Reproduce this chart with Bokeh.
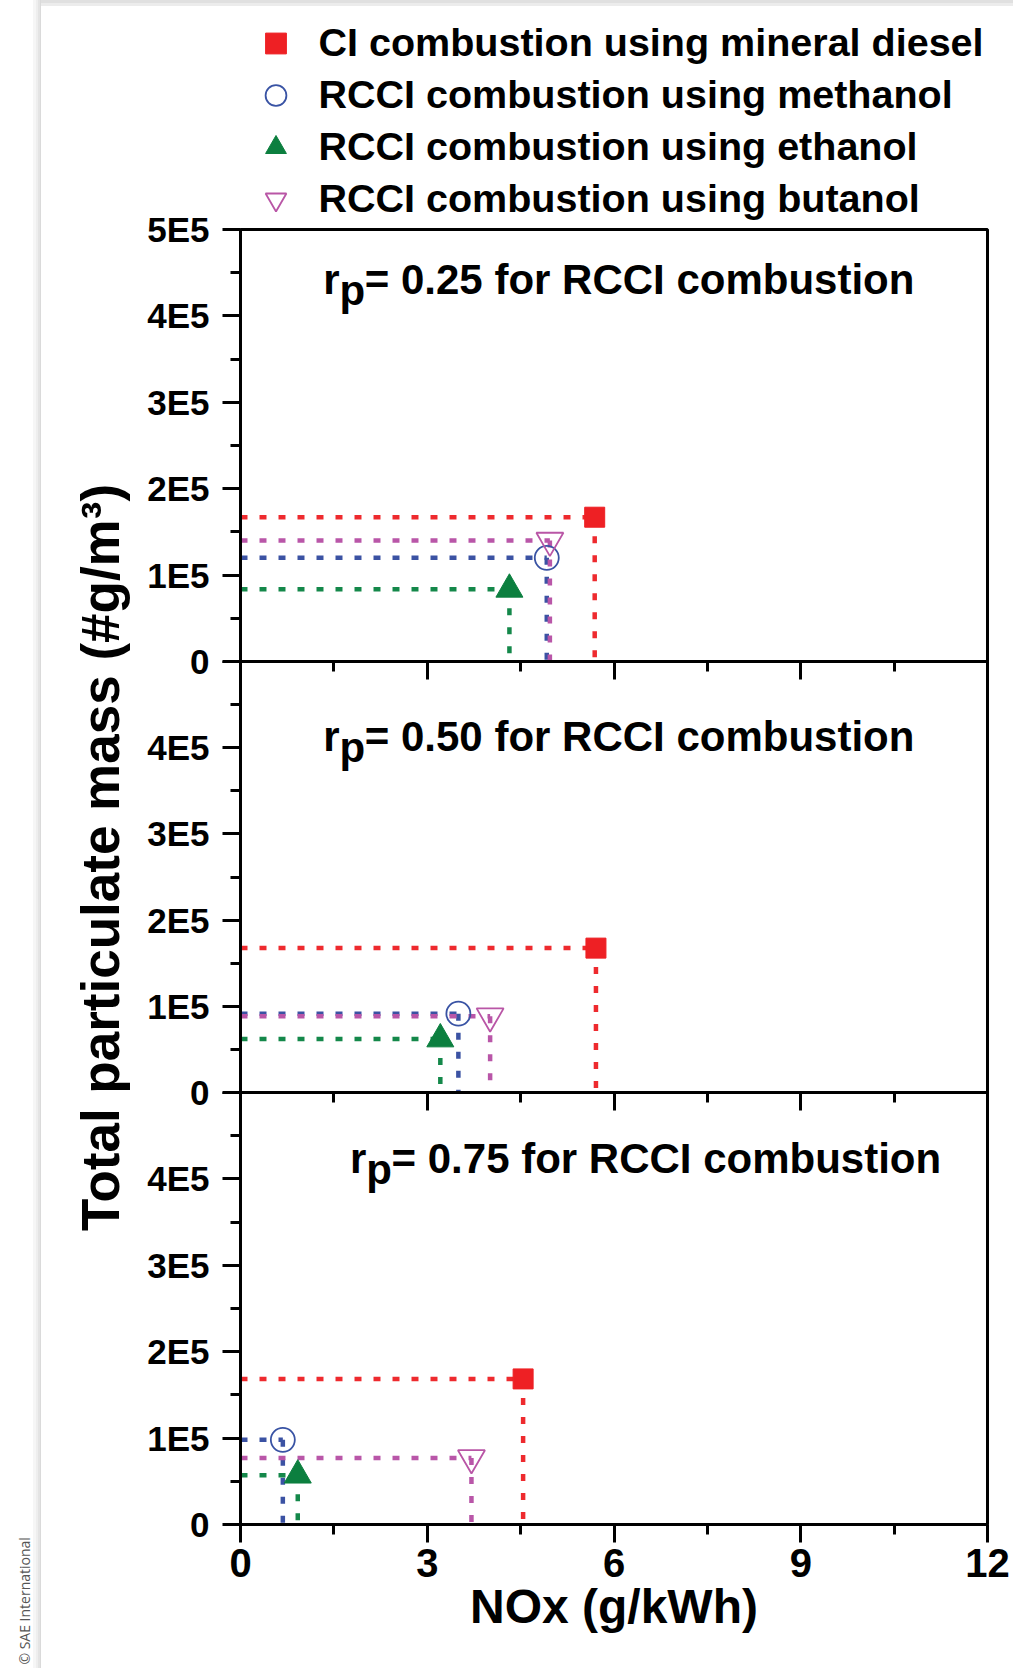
from bokeh.plotting import figure
from bokeh.models import Range1d, FixedTicker, Label, Legend, LegendItem
from bokeh.layouts import row, column
from bokeh.embed import file_html
from bokeh.resources import INLINE

# ---------------- data ----------------
x_ticks = [0, 3, 6, 9, 12]
x_minor = [1.5, 4.5, 7.5, 10.5]
y_ticks = [0, 1e5, 2e5, 3e5, 4e5, 5e5]
y_minor = [0.5e5, 1.5e5, 2.5e5, 3.5e5, 4.5e5]
y_tick_labels = ["0", "1E5", "2E5", "3E5", "4E5", "5E5"]

rp_values = ["0.25", "0.50", "0.75"]

series_names = ["CI combustion using mineral diesel",
                "RCCI combustion using methanol",
                "RCCI combustion using ethanol",
                "RCCI combustion using butanol"]

# NOx (g/kWh) and total particulate mass (#g/m3), one value per panel (rp = 0.25, 0.50, 0.75)
nox_diesel = [5.69, 5.71, 4.54]
pm_diesel = [1.67e5, 1.675e5, 1.685e5]
nox_methanol = [4.92, 3.50, 0.68]
pm_methanol = [1.20e5, 0.915e5, 0.98e5]
nox_ethanol = [4.32, 3.21, 0.92]
pm_ethanol = [0.835e5, 0.62e5, 0.57e5]
nox_butanol = [4.97, 4.01, 3.71]
pm_butanol = [1.40e5, 0.885e5, 0.77e5]

# ---------------- styles ----------------
FONT = "Liberation Sans"
series_x = [nox_diesel, nox_methanol, nox_ethanol, nox_butanol]
series_y = [pm_diesel, pm_methanol, pm_ethanol, pm_butanol]
line_colors = ["#EE2A2E", "#3B52A3", "#14884A", "#B956A8"]
marker_kw = [
    dict(marker="square", size=20, fill_color="#EE2024", line_color="#EE2024", line_width=1),
    dict(marker="circle", size=24, fill_color=None, line_color="#3953A4", line_width=1.8),
    dict(marker="triangle", size=27, fill_color="#0C7F3F", line_color="#0C7F3F", line_width=1),
    dict(marker="inverted_triangle", size=27, fill_color=None, line_color="#B956A6", line_width=1.8),
]

PAGE_W, PAGE_H = 1013, 1668
SHADOW_W = 41
YLAB_W = 99
PANEL_W = PAGE_W - SHADOW_W - YLAB_W   # 873
LEG_H = 229
OVER_TOP = 30
OVER = 60
frame_heights = [432, 431, 432]
BOT_BORDER = PAGE_H - (LEG_H + 432 + 431 + 432)   # 144
title_pos = [(1.33, 4.42e5), (1.33, 4.13e5), (1.76, 4.24e5)]
BAND_CSS = ("linear-gradient(to bottom, #e0e0e0 0px, #e0e0e0 3px, "
            "#ececec 3px, #ececec 6px, #ffffff 6px, #ffffff 100%)")
SHADOW_CSS = ("linear-gradient(to right, #ffffff 0px, #ffffff 33px, #f6f6f6 33px, #f6f6f6 36px, "
              "#eeeeee 36px, #eeeeee 38px, #e4e4e4 38px, #e4e4e4 40px, #dadada 40px, #dadada 41px)")


def bare(fig):
    fig.grid.visible = False
    fig.outline_line_color = None
    return fig


def make_panel(k, b_top, b_bottom, last):
    fh = frame_heights[k]
    p = figure(width=PANEL_W, height=b_top + fh + b_bottom,
               x_range=Range1d(0, 12), y_range=Range1d(0, 5e5),
               output_backend="svg", toolbar_location=None,
               min_border_left=100, min_border_right=26,
               min_border_top=b_top, min_border_bottom=b_bottom)
    p.grid.visible = False
    p.outline_line_color = "black"
    p.outline_line_width = 3
    p.border_fill_alpha = 0
    p.background_fill_alpha = 0

    xa = p.xaxis[0]
    xa.ticker = FixedTicker(ticks=x_ticks, minor_ticks=x_minor)
    xa.axis_line_width = 3
    xa.major_tick_line_width = 3
    xa.minor_tick_line_width = 3
    xa.major_tick_out = 18
    xa.major_tick_in = 0
    xa.minor_tick_out = 10
    xa.minor_tick_in = 0
    xa.major_label_text_font = FONT
    xa.major_label_text_font_style = "bold"
    xa.major_label_text_color = "black"
    if last:
        xa.major_label_text_font_size = "40px"
        xa.major_label_standoff = 6
        xa.axis_label = "NOx (g/kWh)"
        xa.axis_label_text_font = FONT
        xa.axis_label_text_font_size = "48px"
        xa.axis_label_text_font_style = "bold"
        xa.axis_label_text_color = "black"
        xa.axis_label_standoff = 0
    else:
        xa.major_label_text_font_size = "8px"
        xa.major_label_overrides = {t: "" for t in x_ticks}

    ya = p.yaxis[0]
    ya.ticker = FixedTicker(ticks=y_ticks, minor_ticks=y_minor)
    overrides = {t: l for t, l in zip(y_ticks, y_tick_labels)}
    if k > 0:
        overrides[y_ticks[-1]] = ""
    ya.major_label_overrides = overrides
    ya.axis_line_width = 3
    ya.major_tick_line_width = 3
    ya.minor_tick_line_width = 3
    ya.major_tick_out = 18
    ya.major_tick_in = 0
    ya.minor_tick_out = 10
    ya.minor_tick_in = 0
    ya.major_label_text_font = FONT
    ya.major_label_text_font_style = "bold"
    ya.major_label_text_font_size = "35px"
    ya.major_label_text_color = "black"
    ya.major_label_standoff = 13

    # dotted drop lines to the axes
    for s in range(4):
        xv = series_x[s][k]
        yv = series_y[s][k]
        p.segment(x0=[p.x_range.start], y0=[yv], x1=[xv], y1=[yv],
                  line_color=line_colors[s], line_width=4.5, line_dash="7 12")
        p.segment(x0=[xv], y0=[yv], x1=[xv], y1=[p.y_range.start],
                  line_color=line_colors[s], line_width=4.5, line_dash="7 12")
    for s in range(4):
        p.scatter(x=[series_x[s][k]], y=[series_y[s][k]], **marker_kw[s])

    # panel title  r_p = ... for RCCI combustion
    tx, ty = title_pos[k]
    common = dict(x=tx, y=ty, text_font=FONT, text_font_size="42px",
                  text_font_style="bold", text_color="black", text_baseline="alphabetic")
    p.add_layout(Label(text="r", **common))
    p.add_layout(Label(text="p", x_offset=16.3, y_offset=-11, **common))
    p.add_layout(Label(text="= " + rp_values[k] + " for RCCI combustion", x_offset=41.5, **common))
    return p


top = make_panel(0, OVER_TOP, OVER, False)
mid = make_panel(1, 0, OVER, False)
bot = make_panel(2, 0, BOT_BORDER, True)
top.margin = (-OVER_TOP, 0, 0, 0)
mid.margin = (-OVER, 0, 0, 0)
bot.margin = (-OVER, 0, 0, 0)

# ---------------- legend area (above the top panel, same x scale) ----------------
legfig = bare(figure(width=PANEL_W, height=LEG_H,
                     x_range=Range1d(0, 12), y_range=Range1d(5e5, 5e5 * (1 + LEG_H / 432)),
                     output_backend="svg", toolbar_location=None, x_axis_type=None, y_axis_type=None,
                     min_border=0, min_border_left=0, min_border_right=0,
                     min_border_top=0, min_border_bottom=0))
legfig.border_fill_alpha = 0
legfig.background_fill_alpha = 0
legfig.styles = {"background": BAND_CSS}
# the rp = 0.25 points, which lie below this strip's range; they only feed the legend
leg_r = [legfig.scatter(x=[series_x[s][0]], y=[series_y[s][0]], **marker_kw[s]) for s in range(4)]
legend = Legend(items=[LegendItem(label=n, renderers=[r]) for n, r in zip(series_names, leg_r)],
                location=(8.5, 4.4), orientation="vertical",
                glyph_width=53, glyph_height=52, label_height=52, label_standoff=17,
                spacing=0, padding=0, margin=0,
                label_text_font=FONT, label_text_font_size="39.5px", label_text_font_style="bold",
                label_text_color="black",
                border_line_alpha=0, background_fill_alpha=0)
legfig.add_layout(legend)

# ---------------- page decoration: left shadow and copyright ----------------
shadow = bare(figure(width=SHADOW_W, height=PAGE_H, x_range=Range1d(0, SHADOW_W), y_range=Range1d(PAGE_H, 0),
                     output_backend="svg", toolbar_location=None, x_axis_type=None, y_axis_type=None,
                     min_border=0, min_border_left=0, min_border_right=0,
                     min_border_top=0, min_border_bottom=0))
shadow.border_fill_alpha = 0
shadow.background_fill_alpha = 0
shadow.styles = {"background": SHADOW_CSS}
shadow.add_layout(Label(x=24, y=1664, text="\u00a9 SAE International", text_font="Open Sans",
                        text_font_size="14px", text_color="#555555", angle=90, angle_units="deg",
                        text_align="left", text_baseline="alphabetic"))

# ---------------- y axis title strip ----------------
ylab = figure(width=YLAB_W, height=PAGE_H, x_range=Range1d(0, 1), y_range=Range1d(0, 1),
              output_backend="svg", toolbar_location=None, x_axis_type=None,
              min_border=0, min_border_left=YLAB_W - 5, min_border_right=0,
              min_border_top=46, min_border_bottom=0)
ylab.grid.visible = False
ylab.outline_line_color = None
ylab.border_fill_alpha = 0
ylab.background_fill_alpha = 0
ylab.styles = {"background": BAND_CSS}
yl = ylab.yaxis[0]
yl.ticker = FixedTicker(ticks=[])
yl.axis_line_color = None
yl.major_tick_out = 0
yl.major_tick_in = 0
yl.minor_tick_out = 0
yl.minor_tick_in = 0
yl.major_label_standoff = 0
yl.axis_label = "Total particulate mass (#g/m\u00b3)"
yl.axis_label_text_font = FONT
yl.axis_label_text_font_size = "53px"
yl.axis_label_text_font_style = "bold"
yl.axis_label_text_color = "black"
yl.axis_label_standoff = 6

layout = row(shadow, ylab, column(legfig, top, mid, bot))
open("out.html", "w").write(file_html(layout, INLINE))
